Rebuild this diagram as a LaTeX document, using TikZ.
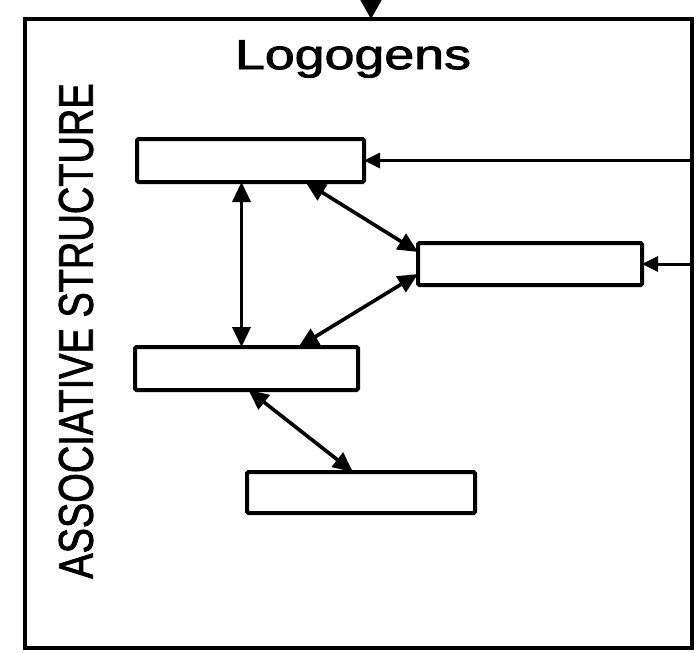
\documentclass[tikz,border=0pt]{standalone}
\usepackage{fontspec}
\setmainfont{Liberation Sans}
\newfontfamily\heavysans{Liberation Sans}[FakeBold=1.8]
\usetikzlibrary{arrows.meta}
\begin{document}
\begin{tikzpicture}[x=1pt,y=-1pt,
  every node/.style={outer sep=0pt, inner sep=0pt},
  frame/.style={draw, line width=4.5pt},
  box/.style={draw, line width=4pt, rounded corners=1.5pt},
  link/.style={line width=3.6pt,
    {Triangle[length=20pt,width=18pt]}-{Triangle[length=20pt,width=18pt]}},
  feed/.style={line width=3pt, -{Triangle[length=16pt,width=15pt]}},
  title/.style={font=\heavysans\fontsize{42}{42}\selectfont},
  side/.style={font=\heavysans\fontsize{38}{38}\selectfont, rotate=90},
]
\useasboundingbox (0,0) rectangle (697,653);

% outer frame of the associative structure
\node[frame, minimum width=667pt, minimum height=629pt] (frame) at (358.5,333.5) {};

% labels
\node[title] (logo) at (353,59) {\scalebox{1.28}[1]{Logogens}};
\node[side] (assoc) at (76,331) {\scalebox{1}[1.28]{ASSOCIATIVE STRUCTURE}};

% logogen boxes
\node[box, minimum width=227pt, minimum height=43pt] (A) at (250.5,160.5) {};
\node[box, minimum width=224pt, minimum height=42pt] (B) at (530,264) {};
\node[box, minimum width=223pt, minimum height=43pt] (C) at (246.5,368.5) {};
\node[box, minimum width=228pt, minimum height=41pt] (D) at (361,492.5) {};

% input from above
\coordinate (in) at (371,-12);
\draw[line width=3pt, -{Triangle[length=22pt,width=24pt]}] (in) -- (in |- frame.north);

% inputs from the right
\draw[feed] (frame.east |- A.east) -- (A.east);
\draw[feed] (frame.east |- B.east) -- (B.east);

% associative links between logogens
\draw[link] ([xshift=-9pt]A.south) -- ([xshift=-9pt]A.south |- C.north);
\draw[link] ([xshift=55pt]A.south) -- ([yshift=12pt]B.west);
\draw[link] ([yshift=-10pt]B.west) -- ([xshift=52pt]C.north);
\draw[link] ([xshift=2pt]C.south) -- ([xshift=-8pt]D.north);
\end{tikzpicture}
\end{document}
